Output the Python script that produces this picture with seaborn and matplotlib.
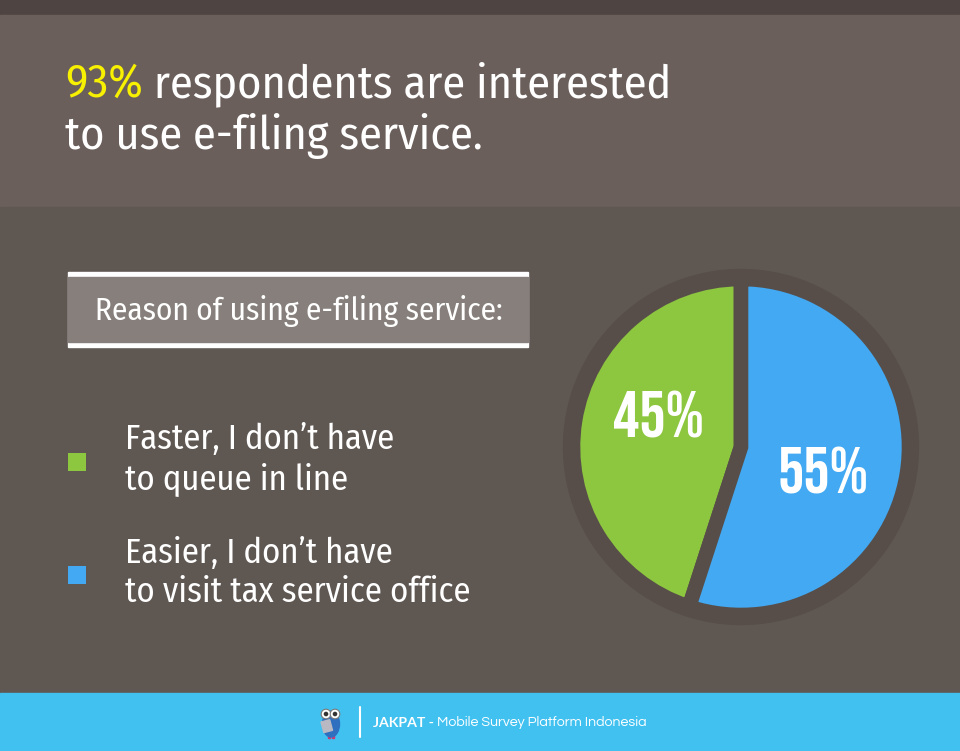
import matplotlib
matplotlib.use("Agg")
import matplotlib.pyplot as plt
from matplotlib.patches import Rectangle, Circle, Ellipse
from matplotlib import font_manager
import seaborn as sns

# data
reasons = ["Faster, I don\u2019t have\nto queue in line",
           "Easier, I don\u2019t have\nto visit tax service office"]
shares = [45, 55]
reason_colors = ["#8dc63f", "#42a9f2"]
headline_pct = "93%"
headline_rest = " respondents are interested"
headline_line2 = "to use e-filing service."
box_title = "Reason of using e-filing service:"
footer_brand = "JAKPAT -"
footer_rest = " Mobile Survey Platform Indonesia"

sns.set_theme(style="white")
installed = {f.name for f in font_manager.fontManager.ttflist}


def pick(*cands):
    for c in cands:
        if c in installed:
            return c
    return "DejaVu Sans"


TEXT_FONT = pick("Fira Sans Condensed", "Ubuntu Condensed", "Cabin Condensed",
                 "Open Sans Condensed", "Roboto Condensed", "IBM Plex Sans Condensed")
NUM_FONT = pick("Bebas Neue", "League Gothic", "Oswald", "Roboto Condensed")
FOOT_FONT = pick("Questrial", "Didact Gothic", "Lato")
FOOT_BOLD = pick("Lato", "Roboto", "DejaVu Sans")
plt.rcParams["font.family"] = [TEXT_FONT, "DejaVu Sans"]

BG_TOP = "#4e4542"
BG_HEAD = "#6b5f5b"
BG_MAIN = "#5f5752"
RING = "#574e4a"
BOX = "#877f7b"
FOOT = "#41c1f0"
YELLOW = "#f7f000"

W, H = 960, 751
fig = plt.figure(figsize=(W / 100, H / 100), dpi=100)
renderer = fig.canvas.get_renderer()
ax = fig.add_axes([0, 0, 1, 1])
ax.set_xlim(0, W)
ax.set_ylim(H, 0)
ax.axis("off")


def width(*texts):
    return sum(t.get_window_extent(renderer).width for t in texts)


def fit(texts, target):
    scale = target / width(*texts)
    for t in texts:
        t.set_fontsize(t.get_fontsize() * scale)


# background bands
ax.add_patch(Rectangle((0, 0), W, 15, color=BG_TOP, zorder=0))
ax.add_patch(Rectangle((0, 15), W, 192, color=BG_HEAD, zorder=0))
ax.add_patch(Rectangle((0, 207), W, 486, color=BG_MAIN, zorder=0))
ax.add_patch(Rectangle((0, 693), W, 58, color=FOOT, zorder=0))

# headline
t1 = ax.text(65, 97, headline_pct, color=YELLOW, fontsize=35, va="baseline", ha="left")
t2 = ax.annotate(headline_rest, xy=(1, 0), xycoords=t1, va="bottom", ha="left",
                 color="white", fontsize=35)
t3 = ax.text(65, 149, headline_line2, color="white", fontsize=35, va="baseline", ha="left")
fit([t1, t2], 607)
t3.set_fontsize(t1.get_fontsize())

# legend header box
ax.add_patch(Rectangle((68, 272), 460, 75, color="white", zorder=1))
ax.add_patch(Rectangle((68, 277), 460, 65, color=BOX, zorder=2))
tb = ax.text(95, 311, box_title, color="white", fontsize=25, va="center", ha="left", zorder=3)
fit([tb], 408)

# legend entries
sq_y = [462, 575]
txt_y = [459, 573]
sns.scatterplot(x=[77, 77], y=sq_y, hue=reasons, palette=reason_colors,
                marker="s", s=170, linewidth=0, legend=False, ax=ax, zorder=3)
items = [ax.text(125, y, label, color="white", fontsize=23, va="center", ha="left",
                 linespacing=1.2) for label, y in zip(reasons, txt_y)]
fit([items[1]], 345)
items[0].set_fontsize(items[1].get_fontsize())
ax.set_xlim(0, W)
ax.set_ylim(H, 0)

# pie
cx, cy, half = 741, 447, 180
pax = fig.add_axes([(cx - half) / W, (H - cy - half) / H, 2 * half / W, 2 * half / H])
pax.add_patch(Circle((0, 0), 177.5, color=RING, zorder=0))
wedges, _, autotexts = pax.pie(
    shares, colors=reason_colors, startangle=90, counterclock=True, radius=168,
    autopct=lambda p: f"{p:.0f}%", pctdistance=0.53,
    wedgeprops=dict(edgecolor=RING, linewidth=10.5),
    textprops=dict(color="white", fontsize=46, fontweight="bold",
                   family=[NUM_FONT, "DejaVu Sans"]))
pax.set_xlim(-half, half)
pax.set_ylim(-half, half)
pax.set_aspect("equal")
pax.axis("off")
# label placement inside each wedge, offsets from the pie centre in pixels
for at, pos in zip(autotexts, [(-83, 32), (82, -24)]):
    at.set_position(pos)
    fit([at], 91)

# footer: simple owl mark, divider and caption
ax.add_patch(Ellipse((331, 724), 17, 26, color="#2f6fc0", zorder=2))
ax.add_patch(Circle((326, 714), 4.8, color="white", ec="#7a7a7a", lw=0.8, zorder=3))
ax.add_patch(Circle((335, 714), 4.8, color="white", ec="#7a7a7a", lw=0.8, zorder=3))
ax.add_patch(Circle((326, 714), 1.6, color="#333333", zorder=4))
ax.add_patch(Circle((335, 714), 1.6, color="#333333", zorder=4))
ax.add_patch(Rectangle((321, 722), 9, 11, angle=-15, color="#b9b9c4", zorder=4))
ax.add_patch(Rectangle((328, 735), 2, 3, color="#d6336c", zorder=1))
ax.add_patch(Rectangle((332, 735), 2, 3, color="#d6336c", zorder=1))
ax.plot([360, 360], [707, 737], color="white", lw=1.5)
f1 = ax.text(373, 727, footer_brand, color="white", fontsize=10, fontweight="bold",
             family=[FOOT_BOLD, "DejaVu Sans"], va="baseline", ha="left")
f2 = ax.annotate(footer_rest, xy=(1, 0), xycoords=f1, va="bottom", ha="left",
                 color="white", fontsize=10, family=[FOOT_FONT, "DejaVu Sans"])
fit([f1, f2], 274)

fig.savefig("out.png", dpi=100, facecolor=BG_MAIN)
